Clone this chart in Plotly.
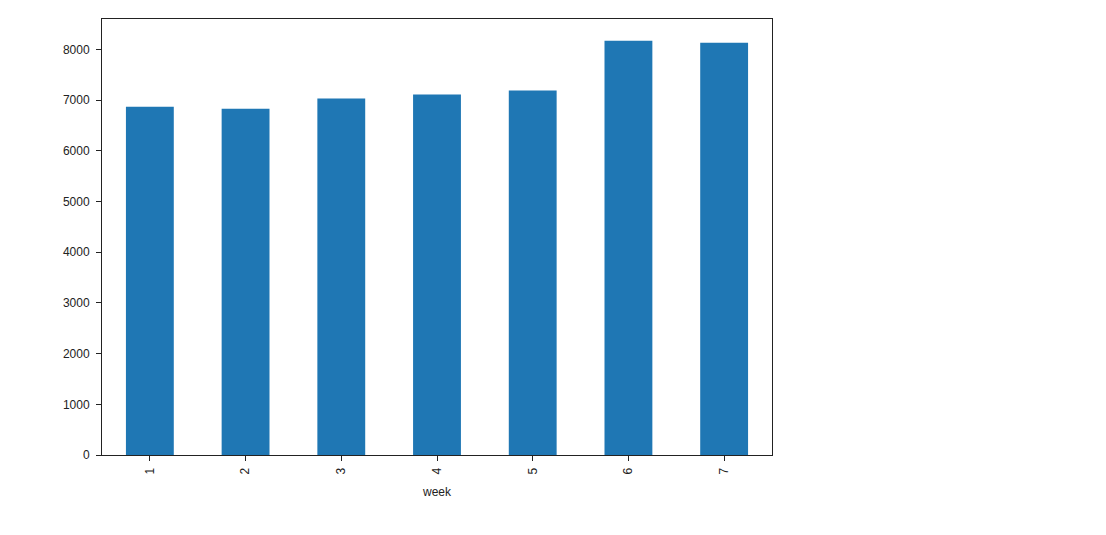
import plotly.graph_objects as go

weeks = ["1", "2", "3", "4", "5", "6", "7"]
counts = [6870, 6830, 7030, 7110, 7190, 8170, 8130]
yticks = [0, 1000, 2000, 3000, 4000, 5000, 6000, 7000, 8000]

fig = go.Figure(go.Bar(x=weeks, y=counts, marker_color="#1f77b4", width=0.5,
                       marker_line_width=0))
font = dict(family="Liberation Sans, Arial, sans-serif", size=12, color="#222")
fig.update_layout(
    width=1106, height=535,
    margin=dict(l=94, r=342, t=11, b=88),
    plot_bgcolor="white", paper_bgcolor="white",
    font=font, showlegend=False,
    xaxis=dict(type="category", range=[-0.5, 6.5], showline=True, mirror=True,
               linecolor="#222", linewidth=1, ticks="outside", ticklen=5,
               tickcolor="#222", tickangle=-90, showgrid=False,
               ticklabelstandoff=2,
               title=dict(text="week", font=font, standoff=14)),
    yaxis=dict(range=[0, 8600], tickvals=yticks, showline=True, mirror=True,
               linecolor="#222", linewidth=1, ticks="outside", ticklen=5,
               tickcolor="#222", showgrid=False, zeroline=False,
               ticklabelstandoff=4),
)
fig.write_html("out.html")
